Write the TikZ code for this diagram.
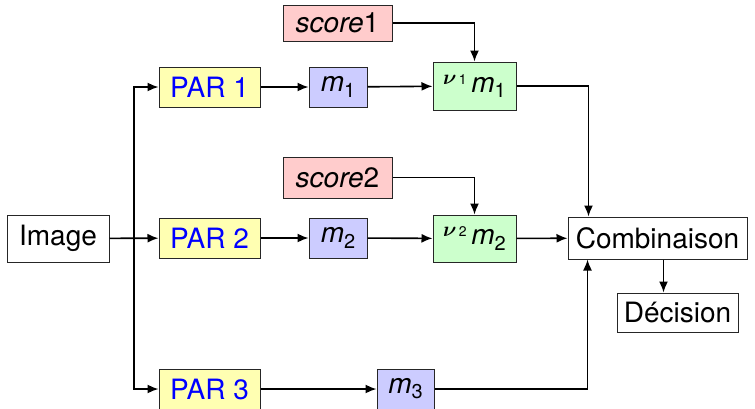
\documentclass[tikz,border=0pt]{standalone}
\usepackage{amsmath}
\usepackage{fontspec}
\setmainfont{TeX Gyre Heros}
\usetikzlibrary{arrows.meta,calc}
\definecolor{cyel}{RGB}{255,255,178}
\definecolor{cred}{RGB}{255,204,204}
\definecolor{cblu}{RGB}{204,204,255}
\definecolor{cgrn}{RGB}{204,255,204}
\newcommand\mysub[1]{\raisebox{-0.35ex}{\fontsize{20}{20}\selectfont #1}}
\newcommand\mynu[1]{\raisebox{0.55ex}{\fontsize{21}{21}\selectfont$\boldsymbol{\nu}$\fontsize{14}{14}\selectfont\,#1}}
\tikzset{
  box/.style={draw=black!85, line width=1pt, inner sep=0pt, font=\fontsize{28}{30}\selectfont},
  parbox/.style={box, fill=cyel, text=blue, minimum width=101pt, minimum height=40pt},
  mbox/.style={box, fill=cblu, minimum width=58pt, minimum height=40pt},
  vbox/.style={box, fill=cgrn, minimum width=83pt, minimum height=47pt},
  sbox/.style={box, fill=cred, minimum width=109pt},
  wbox/.style={box, fill=white},
  conn/.style={line width=1.6pt, -{Latex[length=11pt,width=9pt]}}
}
\begin{document}
\begin{tikzpicture}[x=1pt,y=-1pt]
\useasboundingbox (0,0) rectangle (755,408);
\node[wbox, minimum width=102pt, minimum height=47pt] (img) at (58,238.5) {Image};
\node[parbox] (p1) at (209.5,87) {PAR 1};
\node[parbox] (p2) at (209.5,238) {PAR 2};
\node[parbox] (p3) at (209.5,389) {PAR 3};
\node[mbox] (m1) at (338,87) {\textit{m}\mysub{1}};
\node[mbox] (m2) at (338,238) {\textit{m}\mysub{2}};
\node[mbox, minimum width=57pt] (m3) at (405.5,389) {\textit{m}\mysub{3}};
\node[vbox, minimum height=48pt] (v1) at (474.5,86) {\mynu{1}\,\textit{m}\mysub{1}};
\node[vbox] (v2) at (474.5,238.5) {\mynu{2}\,\textit{m}\mysub{2}};
\node[sbox, minimum height=36pt] (s1) at (337.5,23) {\textit{score}1};
\node[sbox, minimum height=41pt] (s2) at (337.5,177.5) {\textit{score}2};
\node[wbox, minimum width=179pt, minimum height=42pt] (cb) at (657.5,238) {Combinaison};
\node[wbox, minimum width=121pt, minimum height=39pt] (dc) at (677.5,312.5) {Décision};
\coordinate (tr) at ($(img.east)!0.5!(p2.west)$);
\draw[conn] (img) -- (p2);
\draw[conn] (tr) |- (p1);
\draw[conn] (tr) |- (p3);
\draw[conn] (p1) -- (m1);
\draw[conn] (p2) -- (m2);
\draw[conn] (p3) -- (m3);
\draw[conn] (m1) -- (v1);
\draw[conn] (m2) -- (v2);
\draw[conn] (s1) -| (v1);
\draw[conn] (s2) -| (v2);
\draw[conn] (v2) -- (cb);
\coordinate (cbin) at ($(cb.north west)+(21,0)$);
\coordinate (cbin3) at ($(cb.south west)+(20,0)$);
\draw[conn] (v1) -| (cbin);
\draw[conn] (m3) -| (cbin3);
\coordinate (cbout) at ($(cb.south west)+(96,0)$);
\draw[conn] (cbout) -- (cbout |- dc.north);
\end{tikzpicture}
\end{document}
